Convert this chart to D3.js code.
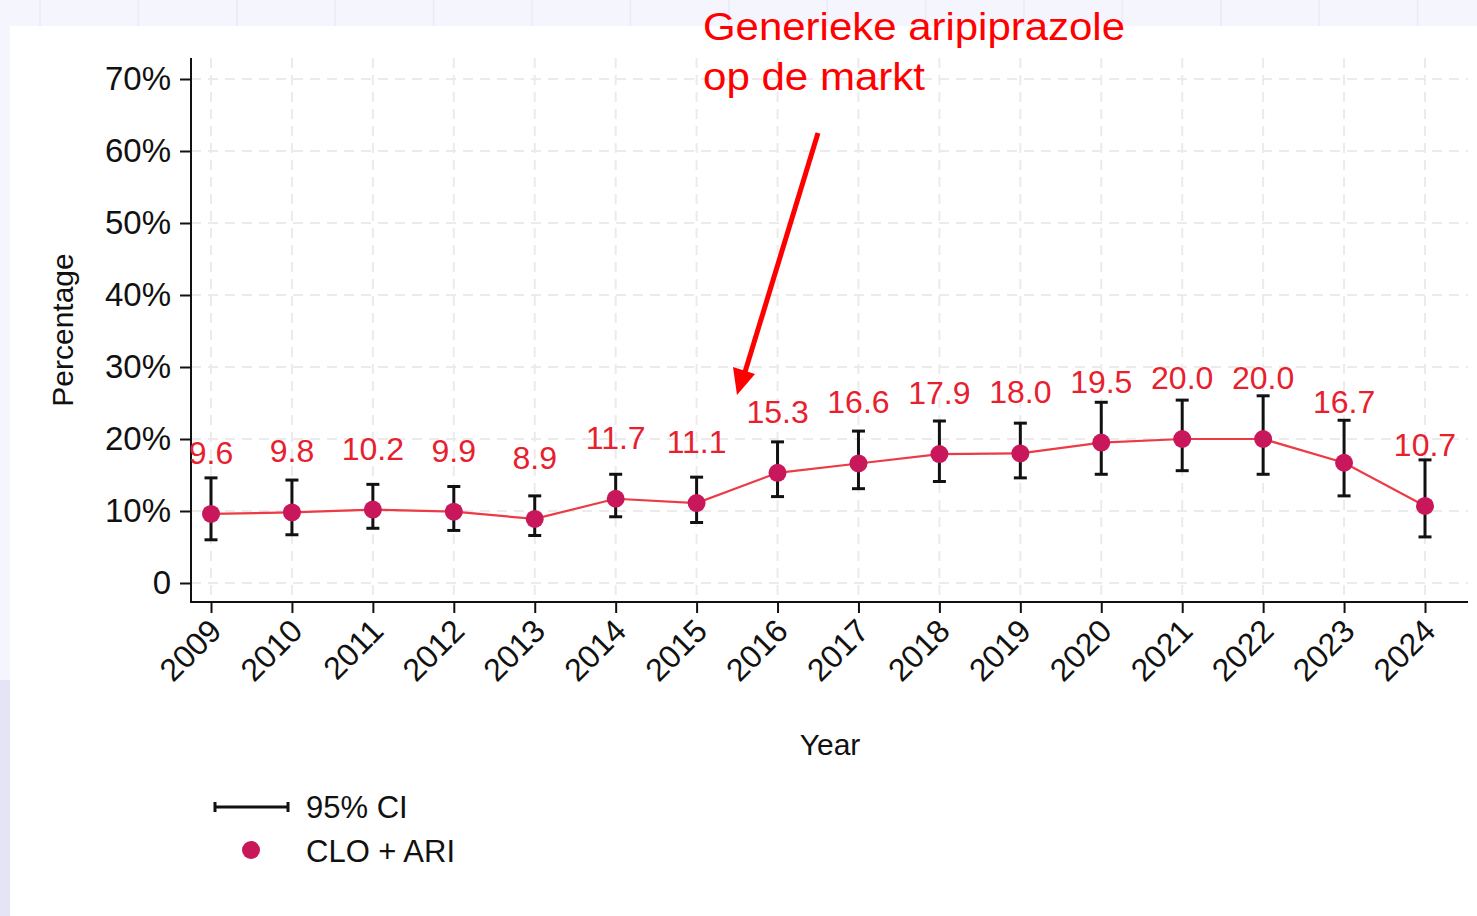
<!DOCTYPE html>
<html>
<head>
<meta charset="utf-8">
<script src="https://cdn.jsdelivr.net/npm/d3@7"></script>
<style>
  body { margin: 0; background: #f5f5fd; }
  svg { display: block; font-family: "Liberation Sans", Arial, Helvetica, sans-serif; }
</style>
</head>
<body>
<div id="chart"></div>
<script>
// data
const years = [2009, 2010, 2011, 2012, 2013, 2014, 2015, 2016, 2017, 2018, 2019, 2020, 2021, 2022, 2023, 2024];
const pct = [9.6, 9.8, 10.2, 9.9, 8.9, 11.7, 11.1, 15.3, 16.6, 17.9, 18.0, 19.5, 20.0, 20.0, 16.7, 10.7];
const ciLow = [6.0, 6.7, 7.6, 7.3, 6.6, 9.2, 8.4, 12.0, 13.1, 14.1, 14.6, 15.1, 15.6, 15.1, 12.1, 6.4];
const ciHigh = [14.6, 14.3, 13.7, 13.4, 12.1, 15.1, 14.7, 19.6, 21.1, 22.5, 22.2, 25.1, 25.4, 26.0, 22.6, 17.1];
const yTicks = [0, 10, 20, 30, 40, 50, 60, 70];
const yTickLabels = ['0', '10%', '20%', '30%', '40%', '50%', '60%', '70%'];

const width = 1477, height = 916;
const red = '#ff0000';
const pointColor = '#c8175a';
const lineColor = '#ec3b45';

let svg = d3.select('#chart').append('svg')
    .attr('width', width)
    .attr('height', height);

// page background + white slide panel
svg.append('rect').attr('width', width).attr('height', height).style('fill', '#f5f5fd');
svg.append('rect').attr('x', 0).attr('y', 680).attr('width', 10).attr('height', height - 680).style('fill', '#e4e4f6');
for (let i = 0; i < 15; i++) {
    svg.append('line')
        .attr('x1', 40 + i * 98.4).attr('x2', 40 + i * 98.4)
        .attr('y1', 0).attr('y2', 26)
        .style('stroke', '#eaeaf8').style('stroke-width', 1.5);
}
svg.append('rect').attr('x', 10).attr('y', 26).attr('width', width - 10).attr('height', height - 26).style('fill', 'white');

// scales
const axisX = 191, axisY = 602;
let xScale = d3.scaleLinear().domain([2009, 2024]).range([211, 1425]);
let yScale = d3.scaleLinear().domain([0, 70]).range([583, 79]);
const plotRight = 1468, plotTop = 58;

// grid
let grid = svg.append('g');
grid.selectAll('.hgrid').data(yTicks).enter().append('line')
    .attr('class', 'hgrid')
    .attr('x1', axisX).attr('x2', plotRight)
    .attr('y1', d => yScale(d)).attr('y2', d => yScale(d))
    .style('stroke', '#ebebeb').style('stroke-width', 2).style('stroke-dasharray', '10,7');
grid.selectAll('.vgrid').data(years).enter().append('line')
    .attr('class', 'vgrid')
    .attr('x1', d => xScale(d)).attr('x2', d => xScale(d))
    .attr('y1', plotTop).attr('y2', axisY)
    .style('stroke', '#ebebeb').style('stroke-width', 2).style('stroke-dasharray', '10,7');

// axes
let yAxis = svg.append('g')
    .attr('transform', `translate(${axisX},0)`)
    .call(d3.axisLeft(yScale).tickValues(yTicks).tickFormat((d, i) => yTickLabels[i]).tickSize(11).tickPadding(9));
yAxis.select('.domain').remove();
yAxis.selectAll('text').style('font-size', '33px').style('fill', '#111').attr('font-family', null);
yAxis.selectAll('line').style('stroke', '#111').style('stroke-width', 2);

let xAxis = svg.append('g')
    .attr('transform', `translate(0,${axisY})`)
    .call(d3.axisBottom(xScale).tickValues(years).tickFormat(d3.format('d')).tickSize(11));
xAxis.select('.domain').remove();
xAxis.selectAll('line').style('stroke', '#111').style('stroke-width', 2);
xAxis.selectAll('text')
    .attr('y', 0).attr('dy', '0.35em')
    .attr('transform', 'translate(4,23) rotate(-45)')
    .style('text-anchor', 'end')
    .style('font-size', '32px').style('fill', '#111').attr('font-family', null);

svg.append('line').attr('x1', axisX).attr('x2', axisX).attr('y1', plotTop).attr('y2', axisY + 1)
    .style('stroke', '#111').style('stroke-width', 2);
svg.append('line').attr('x1', axisX - 1).attr('x2', plotRight).attr('y1', axisY).attr('y2', axisY)
    .style('stroke', '#111').style('stroke-width', 2);

// axis titles
svg.append('text')
    .attr('transform', 'translate(73,330) rotate(-90)')
    .style('text-anchor', 'middle').style('font-size', '30px').style('fill', '#111')
    .text('Percentage');
svg.append('text')
    .attr('x', 830).attr('y', 755)
    .style('text-anchor', 'middle').style('font-size', '30px').style('fill', '#111')
    .text('Year');

// connecting line
let line = d3.line().x((d, i) => xScale(years[i])).y(d => yScale(d));
svg.append('path')
    .datum(pct)
    .attr('d', line)
    .style('fill', 'none').style('stroke', lineColor).style('stroke-width', 2.2);

// confidence intervals
let ci = svg.append('g').selectAll('g').data(years).enter().append('g');
ci.append('line')
    .attr('x1', d => xScale(d)).attr('x2', d => xScale(d))
    .attr('y1', (d, i) => yScale(ciLow[i])).attr('y2', (d, i) => yScale(ciHigh[i]));
ci.append('line')
    .attr('x1', d => xScale(d) - 6.5).attr('x2', d => xScale(d) + 6.5)
    .attr('y1', (d, i) => yScale(ciLow[i])).attr('y2', (d, i) => yScale(ciLow[i]));
ci.append('line')
    .attr('x1', d => xScale(d) - 6.5).attr('x2', d => xScale(d) + 6.5)
    .attr('y1', (d, i) => yScale(ciHigh[i])).attr('y2', (d, i) => yScale(ciHigh[i]));
ci.selectAll('line').style('stroke', '#111').style('stroke-width', 3);

// points
svg.append('g').selectAll('circle').data(pct).enter().append('circle')
    .attr('cx', (d, i) => xScale(years[i]))
    .attr('cy', d => yScale(d))
    .attr('r', 9)
    .style('fill', pointColor);

// value labels
svg.append('g').selectAll('text').data(pct).enter().append('text')
    .attr('x', (d, i) => xScale(years[i]))
    .attr('y', d => yScale(d) - 50)
    .style('text-anchor', 'middle').style('font-size', '32px').style('fill', '#e8202e')
    .text(d => d.toFixed(1));

// annotation
svg.append('text')
    .attr('x', 703).attr('y', 40)
    .attr('textLength', 422).attr('lengthAdjust', 'spacingAndGlyphs')
    .style('font-size', '38px').style('fill', red)
    .text('Generieke aripiprazole');
svg.append('text')
    .attr('x', 703).attr('y', 90)
    .attr('textLength', 222).attr('lengthAdjust', 'spacingAndGlyphs')
    .style('font-size', '38px').style('fill', red)
    .text('op de markt');
svg.append('line')
    .attr('x1', 818).attr('y1', 133).attr('x2', 745).attr('y2', 372)
    .style('stroke', red).style('stroke-width', 5);
svg.append('path')
    .attr('d', 'M737,395 L733,367 L755,374 Z')
    .style('fill', red);

// legend
let legend = svg.append('g').attr('transform', 'translate(215,807)');
legend.append('line').attr('x1', 0).attr('x2', 73).attr('y1', 0).attr('y2', 0);
legend.append('line').attr('x1', 0).attr('x2', 0).attr('y1', -5).attr('y2', 5);
legend.append('line').attr('x1', 73).attr('x2', 73).attr('y1', -5).attr('y2', 5);
legend.selectAll('line').style('stroke', '#111').style('stroke-width', 3);
legend.append('circle').attr('cx', 36).attr('cy', 43).attr('r', 9).style('fill', pointColor);
legend.append('text').attr('x', 91).attr('y', 11).style('font-size', '31px').style('fill', '#111').text('95% CI');
legend.append('text').attr('x', 91).attr('y', 55).style('font-size', '31px').style('fill', '#111').text('CLO + ARI');
</script>
</body>
</html>
